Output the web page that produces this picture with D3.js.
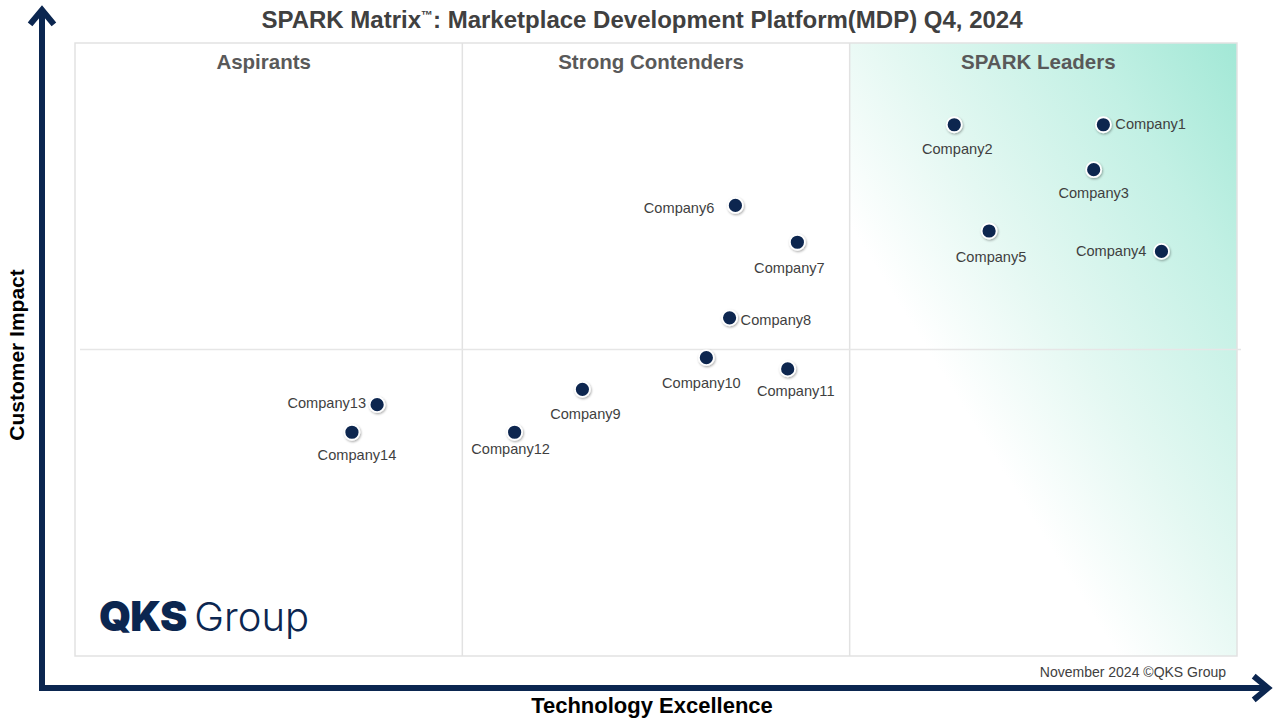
<!DOCTYPE html>
<html>
<head>
<meta charset="utf-8">
<script src="https://cdn.jsdelivr.net/npm/d3@7"></script>
<style>
  body { margin: 0; background: #fff; }
  svg { display: block; font-family: "Liberation Sans", Arial, sans-serif; }
</style>
</head>
<body>
<div id="chart"></div>
<script>
// vendors and their scores (technology excellence, customer impact), 0-6 scale
const companies = ["Company1", "Company2", "Company3", "Company4", "Company5", "Company6", "Company7",
  "Company8", "Company9", "Company10", "Company11", "Company12", "Company13", "Company14"];
const techScores = [5.31, 4.54, 5.26, 5.61, 4.72, 3.41, 3.73, 3.38, 2.62, 3.26, 3.68, 2.27, 1.56, 1.43];
const impactScores = [5.20, 5.20, 4.76, 3.96, 4.16, 4.41, 4.05, 3.31, 2.61, 2.92, 2.81, 2.19, 2.46, 2.19];
const quadrants = ["Aspirants", "Strong Contenders", "SPARK Leaders"];

// label layout: anchor side plus small nudge from the dot (px)
const labelLayout = {
  Company1: ["start", 12, -1], Company2: ["middle", 3, 24], Company3: ["middle", 0, 23],
  Company4: ["end", -15, 0], Company5: ["middle", 2, 26], Company6: ["end", -21, 3],
  Company7: ["middle", -8, 26], Company8: ["start", 11, 2], Company9: ["middle", 3, 25],
  Company10: ["middle", -5, 25], Company11: ["middle", 8, 22], Company12: ["middle", -4, 17],
  Company13: ["end", -11, -2], Company14: ["middle", 5, 23]
};

const W = 1280, H = 720;
const frame = { left: 75, right: 1237, top: 43, bottom: 656 };
const navy = "#0b2650";

const svg = d3.select("#chart").append("svg")
  .attr("width", W).attr("height", H);

const defs = svg.append("defs");
// diagonal wash: white along a slanted line, teal toward the top-right corner
const grad = defs.append("linearGradient")
  .attr("id", "leaderGrad")
  .attr("gradientUnits", "userSpaceOnUse")
  .attr("x1", 876).attr("y1", 268)
  .attr("x2", frame.right).attr("y2", frame.top);
grad.append("stop").attr("offset", "0").attr("stop-color", "#ffffff");
grad.append("stop").attr("offset", "0.3").attr("stop-color", "#e4f8f2");
grad.append("stop").attr("offset", "0.7").attr("stop-color", "#c2f0e4");
grad.append("stop").attr("offset", "1").attr("stop-color", "#a2e8d6");

const shadow = defs.append("filter").attr("id", "dotShadow")
  .attr("x", "-50%").attr("y", "-50%").attr("width", "200%").attr("height", "200%");
shadow.append("feDropShadow")
  .attr("dx", 0.8).attr("dy", 1.2).attr("stdDeviation", 1)
  .attr("flood-color", "#000").attr("flood-opacity", 0.35);

const x = d3.scaleLinear().domain([0, 6]).range([frame.left, frame.right]);
const y = d3.scaleLinear().domain([0, 6]).range([frame.bottom, frame.top]);

// leaders gradient panel
svg.append("rect")
  .attr("x", x(4)).attr("y", frame.top)
  .attr("width", x(6) - x(4)).attr("height", frame.bottom - frame.top)
  .attr("fill", "url(#leaderGrad)");

// outer frame and dividers
svg.append("rect")
  .attr("x", frame.left).attr("y", frame.top)
  .attr("width", frame.right - frame.left).attr("height", frame.bottom - frame.top)
  .attr("fill", "none").attr("stroke", "#e2e2e2").attr("stroke-width", 1.5);

svg.selectAll("line.vdiv")
  .data([2, 4])
  .enter().append("line")
  .attr("class", "vdiv")
  .attr("x1", d => x(d)).attr("x2", d => x(d))
  .attr("y1", frame.top).attr("y2", frame.bottom)
  .attr("stroke", "#e2e2e2").attr("stroke-width", 1.5);

svg.append("line")
  .attr("x1", frame.left + 5).attr("x2", frame.right + 4)
  .attr("y1", y(3)).attr("y2", y(3))
  .attr("stroke", "#e6e6e6").attr("stroke-width", 1.5);

// quadrant headers
svg.selectAll("text.quad")
  .data(quadrants)
  .enter().append("text")
  .attr("class", "quad")
  .attr("x", (d, i) => x(i * 2 + 1) - 5)
  .attr("y", 69)
  .attr("text-anchor", "middle")
  .attr("font-size", 20.5).attr("font-weight", "bold")
  .attr("fill", "#595959")
  .text(d => d);

// title
const title = svg.append("text")
  .attr("x", 642).attr("y", 28)
  .attr("text-anchor", "middle")
  .attr("font-size", 24).attr("font-weight", "bold")
  .attr("fill", "#404040");
title.append("tspan").text("SPARK Matrix");
title.append("tspan").attr("font-size", 12).attr("dy", -9).text("™");
title.append("tspan").attr("dy", 9).text(": Marketplace Development Platform(MDP) Q4, 2024");

// axes arrows
const axisG = svg.append("g").attr("stroke", navy).attr("fill", "none");
axisG.append("path")
  .attr("d", "M42,691 L42,12")
  .attr("stroke-width", 6);
axisG.append("path")
  .attr("d", "M32,22 L42,10 L52,22")
  .attr("stroke-width", 6).attr("stroke-linejoin", "miter").attr("stroke-linecap", "square");
axisG.append("path")
  .attr("d", "M39,688 L1266,688")
  .attr("stroke-width", 6);
axisG.append("path")
  .attr("d", "M1256,678 L1268,688 L1256,698")
  .attr("stroke-width", 6).attr("stroke-linejoin", "miter").attr("stroke-linecap", "square");

svg.append("text")
  .attr("x", 652).attr("y", 713)
  .attr("text-anchor", "middle")
  .attr("font-size", 22).attr("font-weight", "bold").attr("fill", "#000")
  .text("Technology Excellence");

svg.append("text")
  .attr("transform", "translate(24,355) rotate(-90)")
  .attr("text-anchor", "middle")
  .attr("font-size", 21).attr("font-weight", "bold").attr("fill", "#000")
  .text("Customer Impact");

// footer
svg.append("text")
  .attr("x", 1226).attr("y", 677)
  .attr("text-anchor", "end")
  .attr("font-size", 14).attr("fill", "#404040")
  .text("November 2024 \u00A9QKS Group");

// logo
const logo = svg.append("text")
  .attr("x", 99).attr("y", 631)
  .attr("fill", navy);
logo.append("tspan")
  .attr("font-family", "Inter, 'Open Sans', sans-serif")
  .attr("font-weight", 900).attr("font-size", 41).attr("letter-spacing", -1)
  .text("QKS");
logo.append("tspan")
  .attr("dx", 8)
  .attr("font-family", "Inter, 'Open Sans', sans-serif")
  .attr("font-weight", 300).attr("font-size", 40)
  .text("Group");

// points
const pts = companies.map((name, i) => ({ name, tx: techScores[i], ci: impactScores[i], lay: labelLayout[name] }));

const node = svg.selectAll("g.company")
  .data(pts)
  .enter().append("g")
  .attr("class", "company")
  .attr("transform", d => `translate(${x(d.tx)},${y(d.ci)})`);

node.append("circle")
  .attr("r", 7.5)
  .attr("fill", navy)
  .attr("stroke", "#fff").attr("stroke-width", 1.8)
  .attr("filter", "url(#dotShadow)");

node.append("text")
  .attr("font-size", 14.6).attr("fill", "#3f3f3f")
  .attr("dominant-baseline", "central")
  .attr("text-anchor", d => d.lay[0])
  .attr("x", d => d.lay[1])
  .attr("y", d => d.lay[2])
  .text(d => d.name);
</script>
</body>
</html>
